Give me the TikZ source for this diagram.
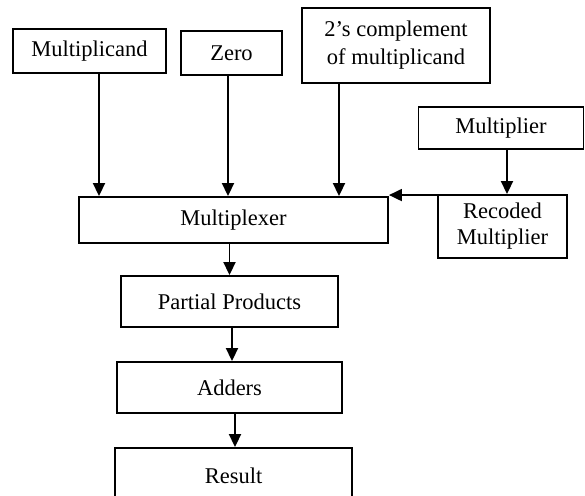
\documentclass[tikz,border=0pt]{standalone}
\usepackage{fontspec}
\setmainfont{Liberation Serif}
\usetikzlibrary{arrows.meta,calc}
\begin{document}
\begin{tikzpicture}[x=1pt,y=-1pt,
  box/.style={draw,line width=1.9pt,inner sep=0pt,align=center,
    font=\fontsize{22.5}{28}\selectfont},
  arr/.style={line width=1.9pt,-{Triangle[length=13pt,width=12pt]}}]
\clip (0,0) rectangle (585,495);
\fill[white] (0,0) rectangle (585,495);
\node[box,minimum width=153pt,minimum height=44pt] (mcand) at (89.5,51) {Multiplicand};
\node[box,minimum width=101pt,minimum height=44pt] (zero) at (231.5,53) {Zero};
\node[box,minimum width=188pt,minimum height=75pt] (comp) at (396,45.5) {2’s complement\\of multiplicand};
\node[box,minimum width=165pt,minimum height=42pt] (mult) at (501,128) {Multiplier};
\node[box,minimum width=129pt,minimum height=63pt,font=\fontsize{22.5}{26}\selectfont] (rec) at (502.5,226.5) {Recoded\\Multiplier};
\node[box,minimum width=309pt,minimum height=46pt] (mux) at (233.5,220) {Multiplexer};
\node[box,minimum width=217pt,minimum height=51pt] (pp) at (229.5,301.5) {Partial Products};
\node[box,minimum width=225pt,minimum height=51pt] (add) at (229.5,387.5) {Adders};
\node[box,minimum width=237pt,minimum height=56pt] (res) at (233.5,476) {Result};
\draw[arr] ([xshift=9.5]mcand.south) -- ([xshift=9.5]mcand.south |- mux.north);
\draw[arr] ([xshift=-3.5]zero.south) -- ([xshift=-3.5]zero.south |- mux.north);
\draw[arr] ([xshift=-57]comp.south) -- ([xshift=-57]comp.south |- mux.north);
\draw[arr] ([xshift=6]mult.south) -- ([xshift=6]mult.south |- rec.north);
\draw[arr] ([yshift=-1]rec.north west) -- ([yshift=-1]rec.north west -| mux.east);
\draw[arr] (pp.north |- mux.south) -- (pp.north);
\draw[arr] ([xshift=2.5]pp.south) -- ([xshift=2.5]pp.south |- add.north);
\draw[arr] ([xshift=5.5]add.south) -- ([xshift=5.5]add.south |- res.north);
\end{tikzpicture}
\end{document}
